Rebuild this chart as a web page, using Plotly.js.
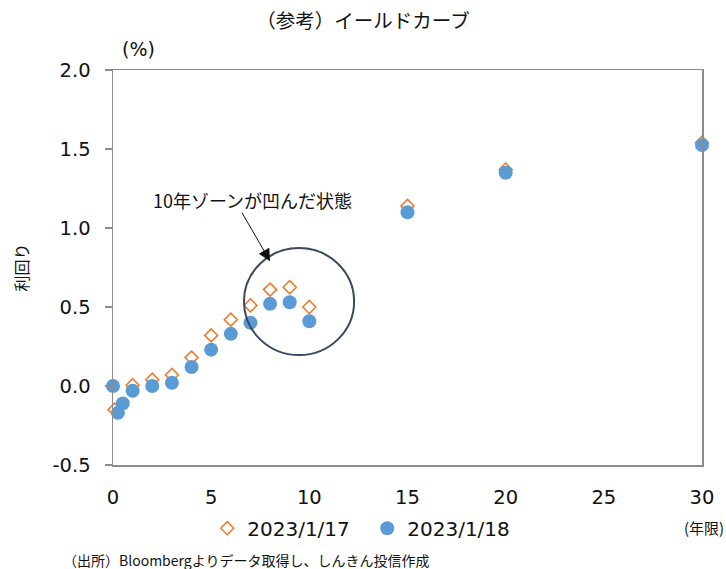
<!DOCTYPE html>
<html>
<head>
<meta charset="utf-8">
<script src="https://cdn.plot.ly/plotly-3.0.1.min.js"></script>
<style>html,body{margin:0;padding:0;background:#fff;}#chart{width:726px;height:569px;}</style>
</head>
<body>
<div id="chart"></div>
<script>
// Data
const maturities17 = [0.08, 1, 2, 3, 4, 5, 6, 7, 8, 9, 10, 15, 20, 30];
const yields17 = [-0.15, 0.005, 0.04, 0.07, 0.18, 0.32, 0.42, 0.51, 0.61, 0.625, 0.50, 1.14, 1.37, 1.54];
const maturities18 = [0, 0.25, 0.5, 1, 2, 3, 4, 5, 6, 7, 8, 9, 10, 15, 20, 30];
const yields18 = [0.00, -0.17, -0.11, -0.03, 0.00, 0.02, 0.12, 0.23, 0.33, 0.40, 0.52, 0.53, 0.41, 1.10, 1.35, 1.525];
const seriesNames = ['2023/1/17', '2023/1/18'];
const xTicks = [0, 5, 10, 15, 20, 25, 30];
const yTicks = [-0.5, 0.0, 0.5, 1.0, 1.5, 2.0];
const yTickLabels = ['-0.5', '0.0', '0.5', '1.0', '1.5', '2.0'];

const numFont = 'DejaVu Sans, Noto Sans CJK JP, sans-serif';
const jpFont = 'Noto Sans CJK JP, DejaVu Sans, sans-serif';
const axisColor = '#8c8c8c';

const traces = [
  {
    x: maturities17, y: yields17, name: seriesNames[0], type: 'scatter', mode: 'markers',
    cliponaxis: false,
    marker: {symbol: 'diamond-open', size: 10, color: '#ED7D31', line: {color: '#ED7D31', width: 1.6}}
  },
  {
    x: maturities18, y: yields18, name: seriesNames[1], type: 'scatter', mode: 'markers',
    cliponaxis: false,
    marker: {symbol: 'circle', size: 14, color: '#5B9BD5'}
  }
];

const layout = {
  width: 726, height: 569,
  paper_bgcolor: '#fff', plot_bgcolor: '#fff',
  margin: {l: 113, r: 24, t: 70, b: 104},
  showlegend: true,
  title: {text: '（参考）イールドカーブ', font: {family: jpFont, size: 19.5, color: '#111'}, x: 0.5, xref: 'container', y: 0.962, yref: 'container', yanchor: 'middle'},
  xaxis: {
    range: [0, 30], tickvals: xTicks, ticks: '', showgrid: false, zeroline: false,
    showline: true, mirror: true, linecolor: axisColor, linewidth: 1.5,
    tickfont: {family: numFont, size: 19.5, color: '#111'}, ticklabelstandoff: 14,
    fixedrange: true
  },
  xaxis2: {
    range: [0, 30], tickvals: xTicks, overlaying: 'x', anchor: 'free', position: 0.2,
    ticks: 'outside', ticklen: 6, tickwidth: 1.5, tickcolor: axisColor,
    showline: true, linecolor: axisColor, linewidth: 1.5, showticklabels: false, showgrid: false, zeroline: false
  },
  xaxis3: {
    range: [0, 30], tickvals: xTicks, overlaying: 'x', anchor: 'free', position: 0.2,
    ticks: 'inside', ticklen: 6, tickwidth: 1.5, tickcolor: axisColor,
    showline: false, showticklabels: false, showgrid: false, zeroline: false
  },
  yaxis: {
    range: [-0.5, 2.0], tickvals: yTicks, ticktext: yTickLabels, ticks: 'outside', ticklen: 7, tickwidth: 1.5, tickcolor: axisColor,
    showgrid: false, zeroline: false, showline: true, mirror: true, linecolor: axisColor, linewidth: 1.5,
    tickfont: {family: numFont, size: 19.5, color: '#111'}, ticklabelstandoff: 10,
    title: {text: '利回り', font: {family: jpFont, size: 16, color: '#111'}, standoff: 20},
    fixedrange: true
  },
  legend: {
    orientation: 'h', x: 0.16, xanchor: 'left', y: -0.16, yanchor: 'middle',
    entrywidth: 115,
    font: {family: numFont, size: 20, color: '#111'}, itemclick: false, itemdoubleclick: false,
    bgcolor: 'rgba(0,0,0,0)'
  },
  shapes: [
    {type: 'circle', xref: 'x', yref: 'y', x0: 6.67, x1: 12.28, y0: 0.196, y1: 0.873,
     line: {color: '#3B4A5E', width: 2}}
  ],
  annotations: [
    {text: '10年ゾーンが凹んだ状態', xref: 'x', yref: 'y', x: 7.13, y: 1.18, showarrow: false,
     font: {family: jpFont, size: 18, color: '#111'}},
    {text: '', xref: 'x', yref: 'y', x: 8.0, y: 0.79, ax: -29, ay: -50, showarrow: true,
     arrowhead: 2, arrowsize: 2.4, arrowwidth: 1, arrowcolor: '#111', standoff: 0},
    {text: '(%)', xref: 'paper', yref: 'paper', x: (138 - 113) / 589, y: (465 - 49) / 395, xanchor: 'center', yanchor: 'middle', showarrow: false,
     font: {family: numFont, size: 19, color: '#111'}},
    {text: '(年限)', xref: 'paper', yref: 'paper', x: (704 - 113) / 589, y: (465 - 527) / 395, xanchor: 'center', yanchor: 'middle', showarrow: false,
     font: {family: jpFont, size: 15, color: '#111'}},
    {text: '（出所）Bloombergよりデータ取得し、しんきん投信作成', xref: 'paper', yref: 'paper', x: (61 - 113) / 589, xanchor: 'left',
     y: (465 - 560) / 395, yanchor: 'middle', showarrow: false,
     font: {family: jpFont, size: 14, color: '#111'}}
  ]
};

Plotly.newPlot('chart', traces, layout, {displayModeBar: false, staticPlot: true});
</script>
</body>
</html>
